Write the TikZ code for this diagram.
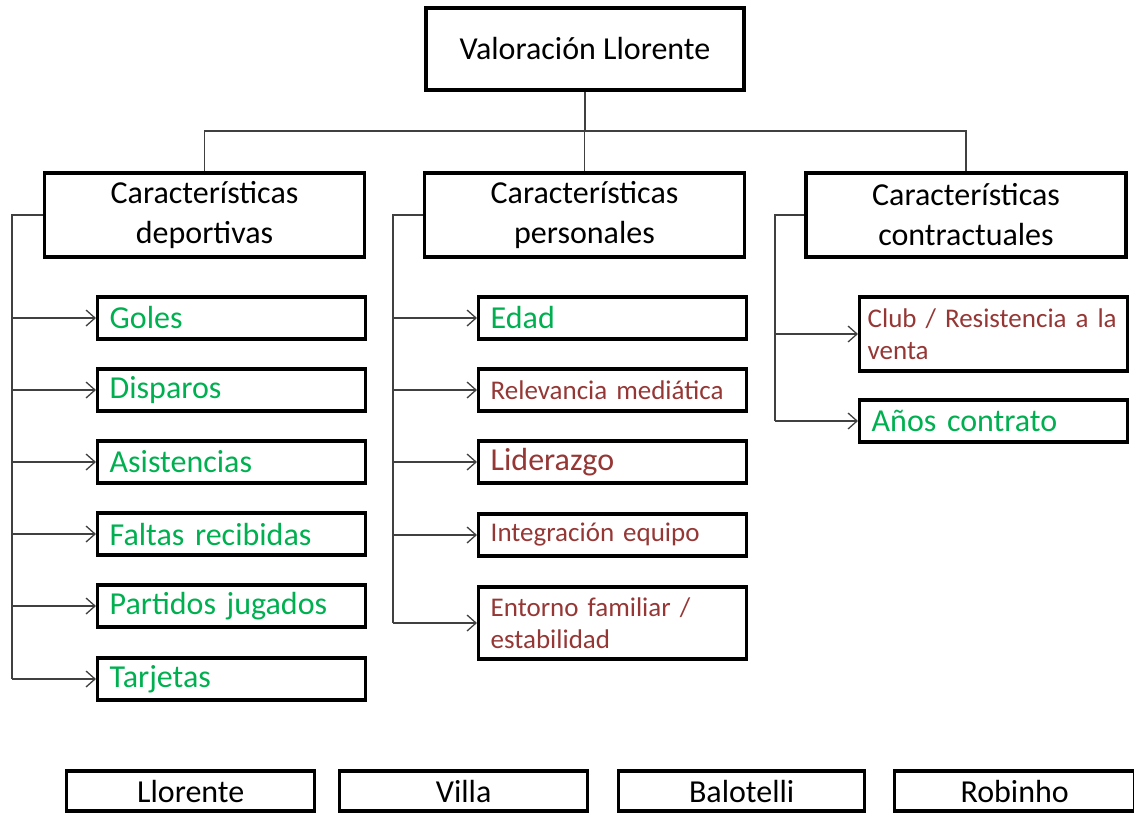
\documentclass[tikz,border=0pt]{standalone}
\usepackage{fontspec}
\setmainfont{Carlito}
\usetikzlibrary{arrows.meta}
\definecolor{verde}{RGB}{0,176,80}
\definecolor{granate}{RGB}{149,55,53}
\begin{document}
\begin{tikzpicture}[x=1pt,y=-1pt,
  caja/.style={draw, line width=3.4pt, align=center, inner sep=0pt, font=\fontsize{32}{40}\selectfont},
  grupo/.style={caja, minimum width=320pt, minimum height=84pt},
  jugador/.style={caja, anchor=west, minimum height=40pt},
  criterio/.style={draw, line width=3.4pt, anchor=west, inner xsep=12pt, inner ysep=0pt, text width=244pt, align=left, minimum height=42pt, text=verde, font=\fontsize{32}{32}\selectfont},
  menor/.style={text=granate, font=\fontsize{27}{32}\selectfont},
  enlace/.style={draw=black!75, line width=1.3pt},
  flecha/.style={enlace, -{Straight Barb[length=9pt,width=16pt]}}]

\useasboundingbox (0,0) rectangle (1134,814);

\node[caja, minimum width=318pt, minimum height=82pt] (val) at (585,49) {Valoración Llorente};

\node[grupo] (dep) at (204.5,215) {Características\\deportivas};
\node[grupo] (per) at (584.5,215) {Características\\personales};
\node[grupo] (con) at (966,215) {Características\\contractuales};

% deportivas
\node[criterio] (gol) at (96,318) {Goles};
\node[criterio] (dis) at (96,390) {Disparos};
\node[criterio] (asi) at (96,462) {Asistencias};
\node[criterio] (fal) at (96,534) {Faltas recibidas};
\node[criterio] (par) at (96,606) {Partidos jugados};
\node[criterio] (tar) at (96,679) {Tarjetas};

% personales
\node[criterio] (eda) at (477,318) {Edad};
\node[criterio, menor] (rel) at (477,390) {Relevancia mediática};
\node[criterio, text=granate] (lid) at (477,462) {Liderazgo};
\node[criterio, menor] (int) at (477,535) {Integración equipo};
\node[criterio, menor, minimum height=72pt] (ent) at (477,623) {Entorno familiar /\\estabilidad};

% contractuales
\node[criterio, menor, minimum height=74pt, inner xsep=8pt, text width=252pt] (clu) at (858,334) {Club / Resistencia a la\\venta};
\node[criterio] (ano) at (858,421) {Años contrato};

\node[jugador, minimum width=248pt] (llo) at (65,791) {Llorente};
\node[jugador, minimum width=248pt] (vil) at (338,791) {Villa};
\node[jugador, minimum width=246pt] (bal) at (617,791) {Balotelli};
\node[jugador, minimum width=240pt] (rob) at (893,791) {Robinho};

\coordinate (barra) at (585,131);
\draw[enlace] (val.south) -- (barra);
\draw[enlace] (dep.north) |- (barra) -| (con.north);
\draw[enlace] (per.north) -- (per.north |- barra);

\coordinate (rdep) at (12,215);
\coordinate (rper) at (393,215);
\coordinate (rcon) at (775,215);
\draw[enlace] (dep.west) -- (rdep) -- (rdep |- tar.west);
\draw[enlace] (per.west) -- (rper) -- (rper |- ent.west);
\draw[enlace] (con.west) -- (rcon) -- (rcon |- ano.west);

\foreach \c in {gol,dis,asi,fal,par,tar}
  \draw[flecha] (rdep |- \c.west) -- (\c.west);
\foreach \c in {eda,rel,lid,int,ent}
  \draw[flecha] (rper |- \c.west) -- (\c.west);
\foreach \c in {clu,ano}
  \draw[flecha] (rcon |- \c.west) -- (\c.west);
\end{tikzpicture}
\end{document}
